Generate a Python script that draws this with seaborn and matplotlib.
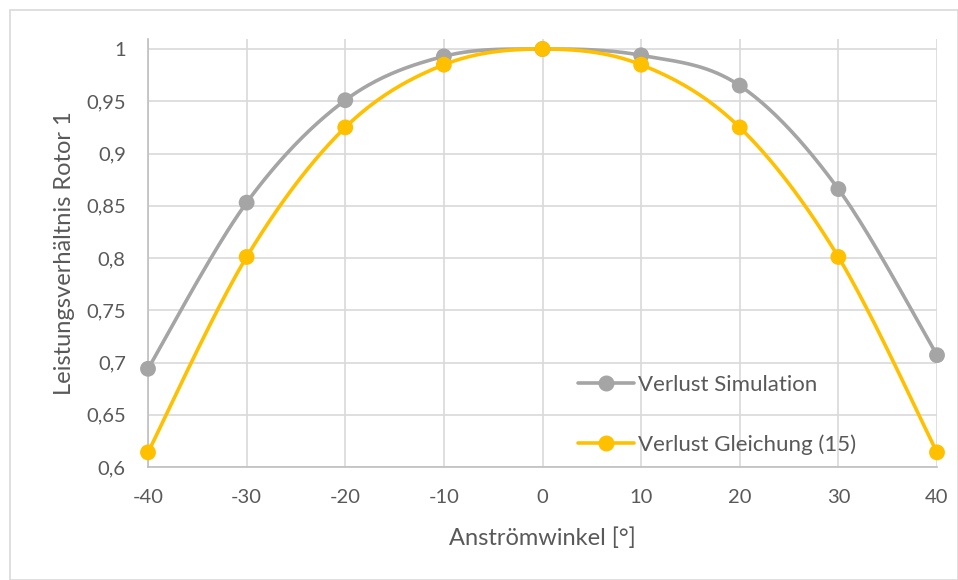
import numpy as np
import pandas as pd
import matplotlib
matplotlib.use("Agg")
import matplotlib.pyplot as plt
from matplotlib.ticker import FuncFormatter, FixedLocator
from matplotlib.patches import Rectangle
from matplotlib.lines import Line2D
import seaborn as sns

# Data
angles = [-40, -30, -20, -10, 0, 10, 20, 30, 40]
verlust_simulation = [0.694, 0.853, 0.951, 0.993, 1.0, 0.994, 0.965, 0.866, 0.707]
verlust_gleichung = [0.614, 0.801, 0.925, 0.985, 1.0, 0.985, 0.925, 0.801, 0.614]
series_names = ["Verlust Simulation", "Verlust Gleichung (15)"]
series_colors = ["#A5A5A5", "#FFC000"]
x_ticks = [-40, -30, -20, -10, 0, 10, 20, 30, 40]
y_ticks = [0.6, 0.65, 0.7, 0.75, 0.8, 0.85, 0.9, 0.95, 1.0]


def smooth_curve(x, y, n=40):
    """Cardinal (Catmull-Rom style) Bezier smoothing through every point."""
    x = np.asarray(x, float)
    y = np.asarray(y, float)
    px = np.concatenate([[x[0]], x, [x[-1]]])
    py = np.concatenate([[y[0]], y, [y[-1]]])
    xs, ys = [], []
    t = np.linspace(0, 1, n)
    for i in range(1, len(px) - 2):
        p0 = np.array([px[i], py[i]])
        p3 = np.array([px[i + 1], py[i + 1]])
        c1 = p0 + (np.array([px[i + 1], py[i + 1]]) - np.array([px[i - 1], py[i - 1]])) / 6
        c2 = p3 - (np.array([px[i + 2], py[i + 2]]) - np.array([px[i], py[i]])) / 6
        b = ((1 - t) ** 3)[:, None] * p0 + (3 * (1 - t) ** 2 * t)[:, None] * c1 \
            + (3 * (1 - t) * t ** 2)[:, None] * c2 + (t ** 3)[:, None] * p3
        xs.append(b[:, 0])
        ys.append(b[:, 1])
    return np.concatenate(xs), np.concatenate(ys)


sns.set_theme(style="white")
plt.rcParams["font.family"] = ["Lato", "DejaVu Sans"]
text_color = "#595959"

fig = plt.figure(figsize=(9.58, 5.8), dpi=100)
ax = fig.add_axes([148 / 958, 1 - 467 / 580, (937 - 148) / 958, (467 - 39) / 580])

# Chart border
fig.patches.append(Rectangle((10 / 958, 0), 1 - 10 / 958, 1 - 10 / 580,
                             transform=fig.transFigure, fill=False,
                             edgecolor="#D9D9D9", linewidth=1.2))

points = []
curves = []
for name, vals in zip(series_names, [verlust_simulation, verlust_gleichung]):
    sx, sy = smooth_curve(angles, vals)
    curves.append(pd.DataFrame({"x": sx, "y": sy, "Serie": name}))
    points.append(pd.DataFrame({"x": angles, "y": vals, "Serie": name}))
curve_df = pd.concat(curves, ignore_index=True)
point_df = pd.concat(points, ignore_index=True)
palette = dict(zip(series_names, series_colors))

sns.lineplot(data=curve_df, x="x", y="y", hue="Serie", palette=palette,
             linewidth=2.6, sort=False, estimator=None, ax=ax, legend=False, zorder=3)
sns.scatterplot(data=point_df, x="x", y="y", hue="Serie", palette=palette,
                s=130, edgecolor="none", ax=ax, legend=False, zorder=4, clip_on=False)

ax.set_xlim(-40, 40)
ax.set_ylim(0.6, 1.0096)
ax.xaxis.set_major_locator(FixedLocator(x_ticks))
ax.yaxis.set_major_locator(FixedLocator(y_ticks))
ax.yaxis.set_major_formatter(FuncFormatter(lambda v, p: f"{v:.2f}".rstrip("0").rstrip(".").replace(".", ",")))
ax.xaxis.set_major_formatter(FuncFormatter(lambda v, p: f"{int(round(v))}"))

ax.grid(True, color="#D9D9D9", linewidth=1.2)
ax.set_axisbelow(True)
for side in ["top", "right"]:
    ax.spines[side].set_visible(False)
for side in ["left", "bottom"]:
    ax.spines[side].set_color("#BFBFBF")
    ax.spines[side].set_linewidth(1.2)
ax.tick_params(axis="both", length=0, labelsize=14.5, labelcolor=text_color)
ax.tick_params(axis="y", pad=16)
ax.tick_params(axis="x", pad=16)

ax.set_xlabel("Anströmwinkel [°]", fontsize=17, color=text_color, labelpad=15)
ax.set_ylabel("Leistungsverhältnis Rotor 1", fontsize=17, color=text_color, labelpad=8)

# Legend
handles = [Line2D([0], [0], color=c, linewidth=2.6, marker="o", markersize=10.5)
           for c in series_colors]
leg = ax.legend(handles, series_names, loc="center left",
                bbox_to_anchor=((578 - 148) / (937 - 148), (467 - 415) / (467 - 39)),
                frameon=False, fontsize=16, handlelength=2.5, handletextpad=0.18,
                labelspacing=1.75, borderaxespad=0, borderpad=0)
for t in leg.get_texts():
    t.set_color(text_color)

fig.savefig("out.png", dpi=100)
